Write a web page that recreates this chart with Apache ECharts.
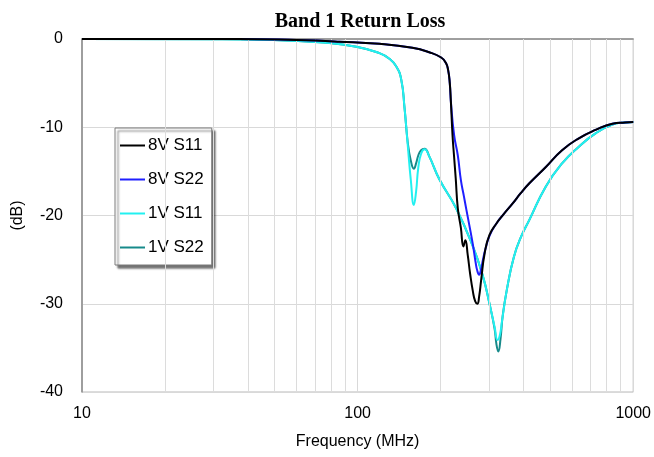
<!DOCTYPE html>
<html>
<head>
<meta charset="utf-8">
<script src="https://cdn.jsdelivr.net/npm/echarts@6/dist/echarts.min.js"></script>
<style>
html,body{margin:0;padding:0;background:#fff;}
#c{width:654px;height:457px;}
</style>
</head>
<body>
<div id="c"></div>
<script>
var seriesNames = ['8V S11', '8V S22', '1V S11', '1V S22'];

var freq8vS11 = [10, 37, 60, 86, 120, 158, 182, 201, 209, 213, 216, 218, 221, 224, 227, 231, 237, 242, 246, 251, 256, 262, 267, 272, 276, 281, 289, 301, 319, 340, 366, 390, 420, 482, 552, 635, 730, 840, 934, 1000];
var db8vS11   = [0, 0, -0.12, -0.3, -0.55, -1.0, -1.5, -2.1, -2.7, -3.5, -5.0, -7.1, -10.9, -13.4, -15.8, -19.2, -21.4, -23.5, -22.8, -24.5, -26.6, -28.6, -29.7, -30.0, -29.2, -27.2, -24.3, -22.2, -20.9, -19.8, -18.6, -17.5, -16.35, -14.5, -12.6, -11.25, -10.3, -9.6, -9.45, -9.4];

var freq8vS22 = [10, 37, 60, 86, 120, 158, 182, 201, 209, 213, 216, 218, 224, 231, 237, 243, 248, 254, 262, 268, 272, 276, 280, 285, 291, 301, 319, 340, 366, 390, 420, 482, 552, 635, 730, 840, 934, 1000];
var db8vS22   = [0, 0, -0.12, -0.3, -0.55, -1.0, -1.5, -2.1, -2.7, -3.5, -5.0, -7.1, -10.9, -13.2, -16.0, -17.8, -19.3, -21.0, -23.3, -25.3, -26.3, -26.7, -26.2, -25.0, -23.8, -22.3, -20.9, -19.8, -18.6, -17.5, -16.35, -14.5, -12.6, -11.25, -10.3, -9.6, -9.45, -9.4];

var freq1vS11 = [10, 30, 49, 75, 99, 120, 130, 138, 144, 148, 152, 156, 160, 163, 166, 170, 175, 182, 198, 228, 262, 285, 301, 314, 322, 328, 334, 348, 369, 392, 420, 482, 552, 635, 730, 840, 934, 1000];
var db1vS11   = [0, -0.02, -0.1, -0.4, -0.87, -1.6, -2.2, -3.1, -4.6, -7.8, -12.0, -16.0, -18.8, -17.3, -14.6, -13.0, -12.5, -13.3, -15.9, -19.2, -23.5, -26.9, -30.0, -32.6, -34.1, -33.6, -32.0, -28.4, -24.7, -22.4, -20.5, -16.7, -14.1, -12.2, -10.7, -9.7, -9.45, -9.4];

var freq1vS22 = [10, 30, 49, 75, 99, 120, 130, 138, 144, 148, 152, 156, 160, 163, 166, 170, 175, 182, 198, 228, 262, 285, 301, 314, 319, 324, 330, 336, 348, 369, 392, 420, 482, 552, 635, 730, 840, 934, 1000];
var db1vS22   = [0, -0.02, -0.1, -0.4, -0.87, -1.6, -2.2, -3.1, -4.6, -7.8, -11.7, -13.8, -14.7, -14.1, -13.2, -12.6, -12.45, -13.3, -15.9, -19.2, -23.5, -26.9, -30.0, -32.8, -34.6, -35.4, -34.0, -31.4, -28.4, -24.7, -22.4, -20.5, -16.7, -14.1, -12.2, -10.7, -9.7, -9.45, -9.4];

var minorGridFreqs = [20, 30, 40, 50, 60, 70, 80, 90, 200, 300, 400, 500, 600, 700, 800, 900];

function pairs(f, d) {
  var out = [];
  for (var i = 0; i < f.length; i++) out.push([f[i], d[i]]);
  return out;
}

var chart = echarts.init(document.getElementById('c'), null, {renderer: 'canvas'});

var lineCommon = {
  type: 'line',
  symbol: 'none',
  smooth: 0.5,
  animation: false
};

chart.setOption({
  backgroundColor: '#ffffff',
  animation: false,
  title: {
    text: 'Band 1 Return Loss',
    left: 355,
    textAlign: 'center',
    top: 7,
    textStyle: {
      fontFamily: 'Liberation Serif',
      fontWeight: 'bold',
      fontSize: 20,
      color: '#000'
    }
  },
  grid: {
    left: 82, right: 20, top: 39, bottom: 65,
    show: true,
    borderColor: '#b8b8b8',
    borderWidth: 1
  },
  legend: {
    data: seriesNames.map(function (n) { return {name: n, icon: 'rect'}; }),
    orient: 'vertical',
    left: 115,
    top: 128,
    itemWidth: 25,
    itemHeight: 2,
    itemGap: 17,
    padding: [9, 8, 9, 5],
    backgroundColor: '#ffffff',
    borderColor: '#7a7a7a',
    borderWidth: 1,
    shadowColor: 'rgba(0,0,0,0.55)',
    shadowOffsetX: 3,
    shadowOffsetY: 3,
    shadowBlur: 2,
    textStyle: {
      fontFamily: 'Liberation Sans',
      fontSize: 17,
      color: '#000',
      padding: [0, 0, 0, -2]
    }
  },
  xAxis: {
    type: 'log',
    logBase: 10,
    min: 10,
    max: 1000,
    name: 'Frequency (MHz)',
    nameLocation: 'middle',
    nameGap: 42,
    nameTextStyle: {fontFamily: 'Liberation Sans', fontSize: 16, color: '#000'},
    axisLine: {show: true, lineStyle: {color: '#8a8a8a', width: 1.5}},
    axisTick: {show: false},
    axisLabel: {
      fontFamily: 'Liberation Sans', fontSize: 16, color: '#000', margin: 14,
      formatter: function (v) { return String(Math.round(v)); }
    },
    splitLine: {show: true, lineStyle: {color: '#d9d9d9', width: 1}}
  },
  yAxis: {
    type: 'value',
    min: -40,
    max: 0,
    interval: 10,
    name: '(dB)',
    nameLocation: 'middle',
    nameGap: 56,
    nameTextStyle: {fontFamily: 'Liberation Sans', fontSize: 16, color: '#000'},
    axisLine: {show: true, lineStyle: {color: '#8a8a8a', width: 1.5}},
    axisTick: {show: false},
    axisLabel: {fontFamily: 'Liberation Sans', fontSize: 16, color: '#000', margin: 19},
    splitLine: {show: true, lineStyle: {color: '#d9d9d9', width: 1}}
  },
  series: [
    {
      name: 'minor-grid',
      type: 'line',
      data: [],
      z: 1,
      silent: true,
      animation: false,
      markLine: {
        silent: true,
        symbol: ['none', 'none'],
        label: {show: false},
        animation: false,
        lineStyle: {color: '#dcdcdc', width: 1, type: 'solid'},
        data: minorGridFreqs.map(function (f) { return {xAxis: f}; })
      }
    },
    Object.assign({}, lineCommon, {
      name: '8V S11', z: 6,
      data: pairs(freq8vS11, db8vS11),
      itemStyle: {color: '#000000'},
      lineStyle: {color: '#000000', width: 2}
    }),
    Object.assign({}, lineCommon, {
      name: '8V S22', z: 5,
      data: pairs(freq8vS22, db8vS22),
      itemStyle: {color: '#1f1fff'},
      lineStyle: {color: '#1f1fff', width: 2}
    }),
    Object.assign({}, lineCommon, {
      name: '1V S11', z: 4,
      data: pairs(freq1vS11, db1vS11),
      itemStyle: {color: '#22f0f0'},
      lineStyle: {color: '#22f0f0', width: 2}
    }),
    Object.assign({}, lineCommon, {
      name: '1V S22', z: 3,
      data: pairs(freq1vS22, db1vS22),
      itemStyle: {color: '#178a8a'},
      lineStyle: {color: '#178a8a', width: 2}
    })
  ]
});
</script>
</body>
</html>
